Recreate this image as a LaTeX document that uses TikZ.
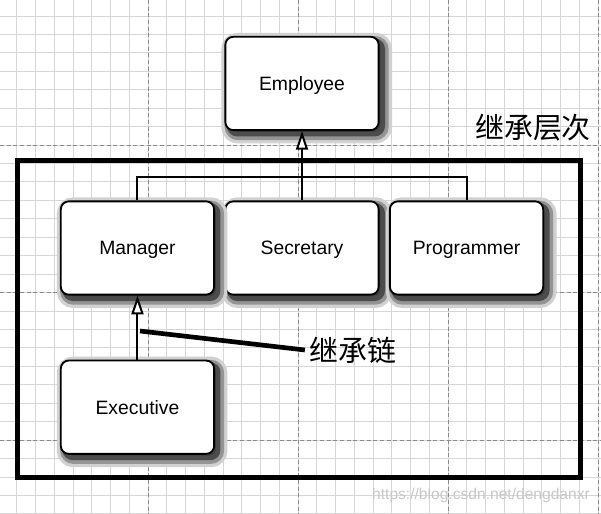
\documentclass[tikz,border=0pt]{standalone}
\usepackage{fontspec}
\setmainfont{Liberation Sans}
\newfontfamily\cjk{Noto Sans CJK SC}
\usetikzlibrary{arrows.meta,positioning}
\definecolor{gridfine}{HTML}{D6D6D6}
\definecolor{gridmajor}{HTML}{8A8A8A}
\definecolor{markgray}{HTML}{C8C8C8}

\begin{document}
\begin{tikzpicture}[x=0.75pt,y=-0.75pt,node distance=52pt and 7pt]
\tikzset{shade1/.style={preaction={draw=black!18,line width=13pt,transform canvas={xshift=3.5pt,yshift=-3.5pt}}},
  shade2/.style={preaction={draw=black!42,line width=8pt,transform canvas={xshift=3.5pt,yshift=-3.5pt}}},
  shade3/.style={preaction={fill=black!75,draw=black!70,line width=3.5pt,transform canvas={xshift=3pt,yshift=-3pt}}}}
\tikzset{box/.style={draw,line width=1.4pt,rounded corners=6pt,minimum width=115pt,minimum height=70pt,align=center,fill=white,text depth=0pt,font=\fontsize{14.5}{17}\selectfont,shade1,shade2,shade3}}
\tikzset{inherit/.style={line width=1.5pt,-{Triangle[length=14pt,width=9pt,fill=white]}}}
\tikzset{fine/.style={gridfine,line width=0.6pt},major/.style={gridmajor,line width=0.7pt,densely dashed},cjklabel/.style={font=\cjk\fontsize{21.7}{26}\selectfont}}
\useasboundingbox (0,0) rectangle (601,514);
\fill[white] (0,0) rectangle (601,514);
% grid
\foreach \i in {-7,...,24} \draw[fine] ({148+18.75*\i},0) -- ({148+18.75*\i},514);
\foreach \j in {-7,...,20} \draw[fine] (0,{145+18.44*\j}) -- (601,{145+18.44*\j});
\foreach \i in {0,...,3} \draw[major] ({148+150*\i},0) -- ({148+150*\i},514);
\foreach \j in {0,...,2} \draw[major] (0,{145+147.5*\j}) -- (601,{145+147.5*\j});
\draw[line width=3.75pt] (17,160) rectangle (580,477);
% classes
\node[box] (sec) at (302,248) {Secretary};
\node[box,left=of sec] (man) {Manager};
\node[box,right=of sec] (prog) {Programmer};
\node[box,above=of sec] (emp) {Employee};
\node[box,below=48pt of man] (exe) {Executive};
\draw[line width=1.5pt] (man.north) -- ++(0,-23) -| (prog.north);
\draw[inherit] (sec.north) -- (emp.south);
\draw[inherit] (exe.north) -- (man.south);
% labels
\node[cjklabel] (hier) at (533,128) {继承层次};
\node[cjklabel] (chain) at (353,350) {继承链};
\coordinate (chainend) at (140,331);
\draw[line width=3.5pt] (chain.west) -- (chainend);
\node[text=markgray,font=\fontsize{11.7}{14}\selectfont] (mark) at (481,495) {https://blog.csdn.net/dengdanxr};
\end{tikzpicture}
\end{document}
